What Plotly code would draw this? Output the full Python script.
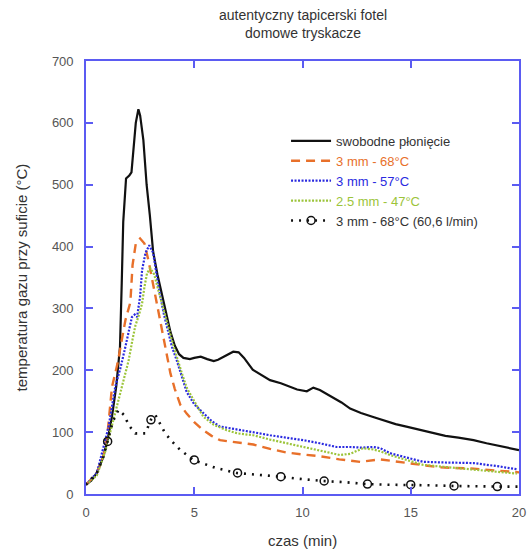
import plotly.graph_objects as go

# ---- data ----
free_t = [0, 0.25, 0.5, 0.8, 1.0, 1.2, 1.4, 1.57, 1.65, 1.72, 1.85, 2.0, 2.1, 2.2, 2.3, 2.42, 2.5, 2.65, 2.8, 2.95,
          3.1, 3.3, 3.5, 3.7, 3.9, 4.1, 4.3, 4.5, 4.8, 5.0, 5.3, 5.6, 5.9, 6.1, 6.35, 6.6, 6.8, 7.05, 7.3, 7.7,
          8.1, 8.5, 9.0, 9.4, 9.75, 10.2, 10.5, 10.8, 11.1, 11.4, 11.8, 12.2, 12.7, 13.3, 13.8, 14.3, 14.8, 15.4,
          16.0, 16.6, 17.2, 17.9, 18.5, 19.2, 20.0]
free_v = [15, 22, 34, 60, 88, 125, 175, 238, 340, 440, 510, 515, 520, 560, 600, 622, 612, 572, 500, 450,
          392, 355, 325, 295, 262, 240, 226, 220, 218, 220, 222, 218, 215, 217, 222, 226, 230, 229, 220, 201,
          192, 184, 179, 173, 169, 166, 172, 168, 162, 156, 148, 138, 131, 124, 118, 113, 109, 104,
          98, 94, 91, 87, 82, 77, 71]

s68_t = [0, 0.5, 0.8, 1.0, 1.2, 1.45, 1.82, 2.05, 2.15, 2.3, 2.5, 2.7, 2.9, 3.12, 3.35, 3.59, 3.9, 4.1, 4.36,
         4.65, 5.0, 5.42, 5.8, 6.19, 6.8, 7.73, 8.5, 9.27, 10.0, 10.8, 11.7, 12.66, 13.58, 14.8, 15.5, 16.35,
         17.9, 19.0, 20.0]
s68_v = [15, 34, 62, 100, 173, 210, 281, 310, 370, 405, 413, 405, 375, 335, 292, 254, 195, 170, 144,
         130, 116, 103, 94, 87, 84, 80, 73, 67, 64, 61, 56, 52, 56, 50, 47, 43,
         41, 38, 35]

s57_t = [0, 0.5, 0.89, 1.05, 1.35, 1.6, 1.82, 2.0, 2.12, 2.25, 2.36, 2.5, 2.59, 2.75, 2.92, 3.1, 3.35, 3.6,
         3.97, 4.2, 4.43, 4.65, 5.0, 5.42, 5.8, 6.19, 6.96, 7.7, 8.5, 9.3, 10.04, 10.8, 11.58, 12.2, 12.7,
         13.27, 13.6, 14.04, 14.8, 15.58, 16.5, 17.9, 19.0, 19.9]
s57_v = [15, 34, 87, 110, 173, 205, 238, 268, 286, 290, 286, 320, 362, 390, 402, 390, 335, 290,
         238, 215, 188, 165, 145, 130, 118, 109, 105, 100, 95, 91, 87, 82, 76, 76, 75,
         76, 74, 66, 59, 52, 51, 50, 45, 40]

s47_t = [0, 0.5, 0.9, 1.12, 1.5, 1.75, 1.97, 2.15, 2.28, 2.45, 2.59, 2.7, 2.82, 2.97, 3.15, 3.3, 3.51, 3.75,
         4.05, 4.43, 4.65, 5.0, 5.42, 5.9, 6.5, 7.0, 7.73, 8.5, 9.27, 10.0, 10.8, 11.3, 11.73, 12.2, 12.5,
         12.8, 13.27, 13.6, 14.04, 14.8, 15.58, 16.5, 17.9, 19.0, 19.9]
s47_v = [15, 30, 70, 100, 152, 185, 216, 250, 272, 290, 308, 335, 357, 365, 355, 335, 308, 275,
         238, 195, 172, 150, 125, 112, 103, 98, 95, 88, 82, 77, 71, 67, 63, 65, 70,
         74, 72, 69, 63, 55, 47, 44, 39, 36, 33]

low_t = [0, 0.5, 0.8, 1.0, 1.25, 1.5, 1.75, 2.0, 2.28, 2.74, 2.9, 3.0, 3.2, 3.45, 3.66, 4.0, 4.36, 4.96, 5.5,
         6.0, 6.96, 8.0, 8.96, 10.0, 10.96, 12.0, 12.96, 14.0, 14.96, 16.0, 16.96, 18.0, 18.96, 20.0]
low_v = [15, 34, 60, 85, 118, 136, 128, 110, 98, 98, 112, 120, 128, 112, 98, 84, 71, 55, 48,
         42, 34, 31, 28, 24, 21, 19, 16, 15, 15, 14, 13, 12, 12, 12]
low_mark_t = [1, 3, 5, 7, 9, 11, 13, 15, 17, 19]
low_mark_v = [85, 120, 55, 34, 28, 21, 16, 15, 13, 12]

names = ["swobodne płonięcie", "3 mm - 68°C", "3 mm - 57°C", "2.5 mm - 47°C", "3 mm - 68°C (60,6 l/min)"]
x_ticks = [0, 5, 10, 15, 20]
y_ticks = [0, 100, 200, 300, 400, 500, 600, 700]

# ---- styles ----
C_BLACK = "#111111"
C_ORANGE = "#e8702a"
C_BLUE = "#2a2ae0"
C_GREEN = "#9cc43a"
C_FRAME = "#5b5bf2"
FONT = "Liberation Sans"

fig = go.Figure()
fig.add_trace(go.Scatter(x=free_t, y=free_v, mode="lines",
                         name=f"<span style='color:#333333'>{names[0]}</span>",
                         line=dict(color=C_BLACK, width=2.2)))
fig.add_trace(go.Scatter(x=s68_t, y=s68_v, mode="lines",
                         name=f"<span style='color:{C_ORANGE}'>{names[1]}</span>",
                         line=dict(color=C_ORANGE, width=2.4, dash="9px,6px")))
fig.add_trace(go.Scatter(x=s57_t, y=s57_v, mode="lines",
                         name=f"<span style='color:{C_BLUE}'>{names[2]}</span>",
                         line=dict(color=C_BLUE, width=2.2, dash="2px,1.5px")))
fig.add_trace(go.Scatter(x=s47_t, y=s47_v, mode="lines",
                         name=f"<span style='color:{C_GREEN}'>{names[3]}</span>",
                         line=dict(color=C_GREEN, width=2.2, dash="2px,1.5px")))
fig.add_trace(go.Scatter(x=low_t, y=low_v, mode="lines", showlegend=False,
                         line=dict(color=C_BLACK, width=2.6, dash="2px,6px")))
fig.add_trace(go.Scatter(x=low_mark_t, y=low_mark_v, mode="markers", showlegend=False,
                         marker=dict(symbol="circle-open", size=8, color=C_BLACK,
                                     line=dict(width=1.5, color=C_BLACK))))
# legend entry for the last series (line + marker)
fig.add_trace(go.Scatter(x=[None], y=[None], mode="lines+markers",
                         name=f"<span style='color:#333333'>{names[4]}</span>",
                         line=dict(color=C_BLACK, width=2.6, dash="2px,6px"),
                         marker=dict(symbol="circle-open", size=8, color=C_BLACK,
                                     line=dict(width=1.5, color=C_BLACK))))

axis_common = dict(showline=True, linecolor=C_FRAME, linewidth=1.6, mirror="ticks",
                   ticks="inside", ticklen=7, tickwidth=1.6, tickcolor=C_FRAME,
                   showgrid=False, zeroline=False, automargin=False,
                   tickfont=dict(family=FONT, size=13, color="#555555"))

fig.update_layout(
    width=528, height=551,
    margin=dict(l=86, r=9, t=61, b=57),
    paper_bgcolor="white", plot_bgcolor="white",
    font=dict(family=FONT, color="#333333"),
    xaxis=dict(range=[0, 20], tickvals=x_ticks, ticklabelstandoff=6, **axis_common),
    yaxis=dict(range=[0, 700], tickvals=y_ticks, ticklabelstandoff=8, **axis_common),
    legend=dict(x=0.462, y=0.85, xanchor="left", yanchor="top",
                bgcolor="rgba(0,0,0,0)", font=dict(family=FONT, size=13, color="#333333"),
                itemwidth=40, tracegroupgap=0),
    showlegend=True,
    annotations=[
        dict(text="autentyczny tapicerski fotel<br>domowe tryskacze",
             xref="paper", yref="paper", x=0.5, y=1.0855,
             xanchor="center", yanchor="middle", showarrow=False,
             font=dict(family=FONT, size=14, color="#333333")),
        dict(text="czas (min)", xref="paper", yref="paper", x=0.5, y=-0.108,
             xanchor="center", yanchor="middle", showarrow=False,
             font=dict(family=FONT, size=15, color="#333333")),
        dict(text="temperatura gazu przy suficie (°C)", xref="paper", yref="paper",
             x=-0.148, y=0.5, xanchor="center", yanchor="middle", textangle=-90,
             showarrow=False, font=dict(family=FONT, size=15, color="#333333")),
    ],
)

fig.write_html("out.html", config={"displayModeBar": False},
               post_script="document.body.style.margin='0px';document.body.style.overflow='hidden';")
